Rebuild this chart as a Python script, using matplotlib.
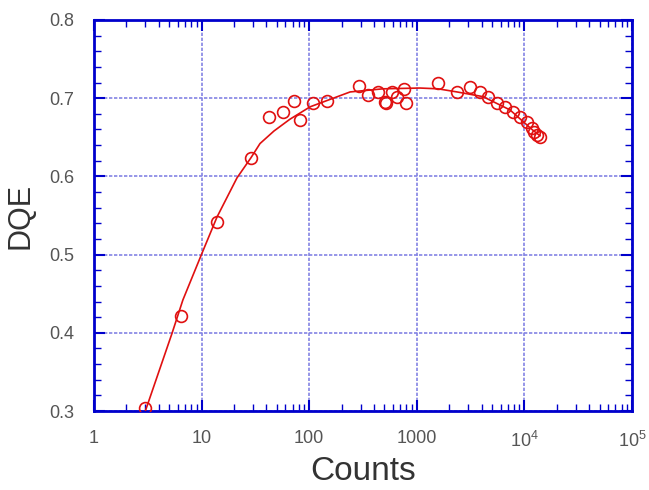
import matplotlib.pyplot as plt
import matplotlib.ticker as mticker
import numpy as np

# measured DQE vs. counts per pixel
counts = [3.0, 6.4, 13.9, 28.8, 42, 57, 72, 82, 108, 146,
          290, 352, 436, 506, 520, 588, 655, 760, 794,
          1575, 2365, 3120, 3870, 4590, 5560, 6600, 7840, 9100,
          10570, 11770, 12300, 13100, 13960]
dqe = [0.304, 0.421, 0.542, 0.624, 0.676, 0.682, 0.696, 0.672, 0.694, 0.696,
       0.715, 0.704, 0.708, 0.695, 0.694, 0.708, 0.702, 0.712, 0.694,
       0.719, 0.708, 0.714, 0.708, 0.702, 0.694, 0.689, 0.682, 0.676,
       0.670, 0.662, 0.657, 0.653, 0.650]

# smooth fit through the data
fit_counts = [3.0, 5.3, 6.7, 10.1, 13.9, 21.3, 28.8, 34.9, 47, 66, 102, 240,
              485, 1070, 1575, 2365, 4120, 7350, 12000, 13960]
fit_dqe = [0.300, 0.399, 0.442, 0.502, 0.548, 0.598, 0.624, 0.642, 0.658, 0.673,
           0.689, 0.708, 0.712, 0.713, 0.712, 0.708, 0.702, 0.685, 0.659, 0.652]

x_ticks = [1, 10, 100, 1000, 1e4, 1e5]
x_labels = ['1', '10', '100', '1000', r'10$^{4}$', r'10$^{5}$']
y_ticks = [0.3, 0.4, 0.5, 0.6, 0.7, 0.8]

frame_blue = '#0000cc'
grid_blue = '#8484e4'
red = '#e01010'
label_gray = '#555555'

plt.rcParams['font.family'] = ['Liberation Sans', 'DejaVu Sans']
plt.rcParams['mathtext.fontset'] = 'custom'
plt.rcParams['mathtext.rm'] = 'Liberation Sans'

fig = plt.figure(figsize=(6.49, 4.90), dpi=100)
ax = fig.add_axes([94 / 649, 1 - 411 / 490, (632 - 94) / 649, (411 - 20) / 490])

ax.plot(fit_counts, fit_dqe, '-', color=red, lw=1.2, zorder=3)
ax.plot(counts, dqe, 'o', mfc='none', mec=red, mew=1.2, ms=8.5, zorder=4)

ax.set_xscale('log')
ax.set_xlim(1, 1e5)
ax.set_ylim(0.3, 0.8)

ax.set_xticks(x_ticks)
ax.set_xticklabels(x_labels)
ax.xaxis.set_minor_locator(mticker.LogLocator(base=10, subs=np.arange(2, 10)))
ax.xaxis.set_minor_formatter(mticker.NullFormatter())
ax.set_yticks(y_ticks)
ax.set_yticklabels([f'{v:.1f}' for v in y_ticks])
ax.yaxis.set_minor_locator(mticker.MultipleLocator(0.02))

ax.grid(True, which='major', color=grid_blue, lw=1.2, ls=(0, (2, 1)), zorder=1)

ax.tick_params(which='both', direction='in', top=True, right=True,
               color=frame_blue, labelcolor=label_gray, labelsize=13)
ax.tick_params(which='major', length=8, width=1.5)
ax.tick_params(which='minor', length=5, width=1.0)
ax.tick_params(axis='x', pad=14)
ax.tick_params(axis='y', pad=14)

for side in ['top', 'bottom', 'left', 'right']:
    ax.spines[side].set_color(frame_blue)
    ax.spines[side].set_linewidth(2)

ax.set_xlabel('Counts', fontsize=24, color='#333333', labelpad=4)
ax.set_ylabel('DQE', fontsize=22, color='#333333', labelpad=10)

fig.savefig('out.png', dpi=100)
